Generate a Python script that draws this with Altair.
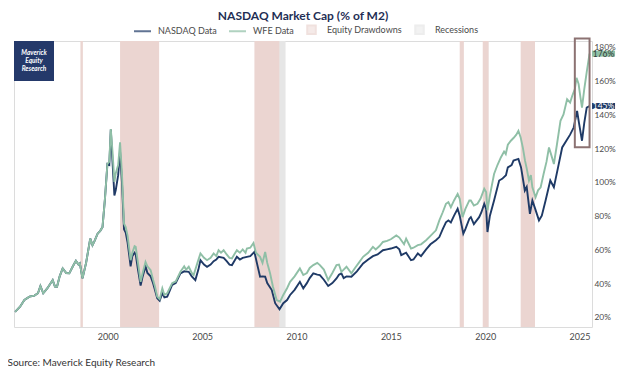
import altair as alt
import pandas as pd

# ---------------- data ----------------
wfe_years = [1995.09, 1995.35, 1995.58, 1995.85, 1996.11, 1996.3, 1996.43, 1996.58, 1996.8, 1997.08,
             1997.2, 1997.31, 1997.45, 1997.61, 1997.8, 1997.96, 1998.15, 1998.31, 1998.45, 1998.52,
             1998.66, 1998.85, 1999.07, 1999.19, 1999.3, 1999.46, 1999.6, 1999.72, 1999.85, 1999.98,
             2000.08, 2000.16, 2000.25, 2000.35, 2000.42, 2000.55, 2000.65, 2000.75, 2000.86, 2000.95,
             2001.05, 2001.21, 2001.3, 2001.42, 2001.48, 2001.6, 2001.74, 2001.85, 2002.0, 2002.1,
             2002.27, 2002.4, 2002.5, 2002.62, 2002.75, 2002.89, 2003.0, 2003.15, 2003.41, 2003.6,
             2003.85, 2004.05, 2004.15, 2004.29, 2004.45, 2004.55, 2004.75, 2004.91, 2005.1, 2005.26,
             2005.45, 2005.61, 2005.75, 2005.87, 2006.0, 2006.14, 2006.3, 2006.45, 2006.58, 2006.7,
             2006.84, 2007.0, 2007.15, 2007.3, 2007.37, 2007.55, 2007.72, 2007.85, 2008.07, 2008.2,
             2008.34, 2008.45, 2008.6, 2008.75, 2008.95, 2009.13, 2009.3, 2009.5, 2009.66, 2009.9,
             2010.18, 2010.36, 2010.55, 2010.7, 2010.89, 2011.1, 2011.24, 2011.45, 2011.68, 2011.9,
             2012.12, 2012.25, 2012.38, 2012.5, 2012.65, 2012.91, 2013.1, 2013.3, 2013.53, 2013.8,
             2014.05, 2014.2, 2014.4, 2014.58, 2014.8, 2015.0, 2015.29, 2015.45, 2015.55, 2015.7,
             2015.81, 2016.07, 2016.2, 2016.43, 2016.6, 2016.87, 2017.1, 2017.39, 2017.57, 2017.75,
             2017.92, 2018.05, 2018.18, 2018.35, 2018.54, 2018.65, 2018.8, 2018.95, 2019.16, 2019.24,
             2019.4, 2019.59, 2019.75, 2019.95, 2020.05, 2020.12, 2020.25, 2020.47, 2020.65, 2020.83,
             2021.0, 2021.09, 2021.2, 2021.36, 2021.5, 2021.65, 2021.76, 2021.88, 2022.0, 2022.11,
             2022.2, 2022.32, 2022.42, 2022.5, 2022.67, 2022.8, 2022.94, 2023.1, 2023.25, 2023.38,
             2023.5, 2023.64, 2023.8, 2023.99, 2024.15, 2024.34, 2024.5, 2024.61, 2024.75, 2024.84,
             2024.95, 2025.05, 2025.13, 2025.25, 2025.38, 2025.53]
wfe_values = [23, 26, 30, 32, 32.6, 34, 38.3, 34, 37, 41.8,
              38, 37.9, 44, 48.7, 46, 45.8, 50, 53.2, 51, 51.7,
              42.8, 52, 66.4, 62.5, 65, 69.3, 71, 73.2, 90, 110.6,
              112, 131.3, 118, 100, 105, 110, 123.4, 105, 75.2, 73.2,
              68, 53.6, 58, 61.9, 61.5, 52, 40.8, 46, 52.6, 50,
              47.7, 42, 38, 32, 30.5, 36.9, 33, 34, 40, 41,
              46.7, 50, 48, 49.7, 46, 44.8, 52, 57.6, 55, 53.6,
              55, 57.6, 56, 59.5, 58, 59.5, 57, 55, 54.6, 57,
              59.5, 58, 60, 58, 60.5, 61, 63.8, 58, 55.6, 52,
              58.5, 52, 45.8, 38, 30, 29, 33, 37, 40.8, 44,
              48.7, 44.8, 46, 49, 50.7, 52, 50.7, 48, 41.8, 46,
              50.7, 51, 46.7, 48, 49.7, 45.8, 49, 52, 55.6, 58,
              61.5, 60, 62, 64.4, 65, 66, 68.3, 67, 65.4, 63,
              66.4, 60.5, 61, 62.5, 63, 65.4, 68, 71.3, 77.2, 82,
              87, 88, 85, 89, 92.9, 90, 79.1, 84, 89, 89,
              86, 87, 90, 95.9, 94, 83.1, 92, 104.7, 110, 114.5,
              118, 116.5, 122, 124.4, 126, 128, 130.3, 126.3, 120, 112.6,
              108, 100.8, 104, 96.8, 90.9, 95, 96.8, 105, 112, 120.4,
              116, 110.6, 122, 136.2, 140, 149, 147, 150.9, 155, 161.7,
              158, 150, 144, 155, 165, 176]

nasdaq_years = [1995.09, 1995.35, 1995.58, 1995.85, 1996.11, 1996.3, 1996.43, 1996.58, 1996.8, 1997.08,
                1997.2, 1997.31, 1997.45, 1997.61, 1997.8, 1997.96, 1998.15, 1998.31, 1998.45, 1998.52,
                1998.66, 1998.85, 1999.07, 1999.19, 1999.3, 1999.46, 1999.6, 1999.72, 1999.85, 1999.98,
                2000.08, 2000.16, 2000.25, 2000.35, 2000.42, 2000.55, 2000.65, 2000.75, 2000.86, 2000.95,
                2001.05, 2001.21, 2001.3, 2001.42, 2001.48, 2001.6, 2001.74, 2001.85, 2002.0, 2002.1,
                2002.27, 2002.4, 2002.5, 2002.62, 2002.75, 2002.89, 2003.0, 2003.15, 2003.41, 2003.6,
                2003.85, 2004.05, 2004.29, 2004.45, 2004.64, 2004.8, 2004.91, 2005.1, 2005.26, 2005.45,
                2005.61, 2005.75, 2005.87, 2006.14, 2006.3, 2006.45, 2006.58, 2006.7, 2006.84, 2007.0,
                2007.15, 2007.37, 2007.55, 2007.77, 2007.9, 2008.07, 2008.2, 2008.34, 2008.45, 2008.69,
                2008.87, 2009.1, 2009.3, 2009.5, 2009.66, 2009.9, 2010.18, 2010.36, 2010.55, 2010.7,
                2010.89, 2011.1, 2011.24, 2011.45, 2011.68, 2011.9, 2012.12, 2012.25, 2012.38, 2012.5,
                2012.65, 2012.91, 2013.2, 2013.53, 2013.8, 2014.05, 2014.3, 2014.58, 2014.8, 2015.0,
                2015.29, 2015.45, 2015.55, 2015.81, 2016.07, 2016.2, 2016.43, 2016.6, 2016.87, 2017.1,
                2017.39, 2017.57, 2017.75, 2017.92, 2018.05, 2018.18, 2018.35, 2018.54, 2018.65, 2018.84,
                2018.95, 2019.16, 2019.24, 2019.4, 2019.68, 2019.8, 2019.95, 2020.05, 2020.12, 2020.25,
                2020.47, 2020.74, 2020.9, 2021.1, 2021.2, 2021.4, 2021.5, 2021.76, 2021.9, 2022.1,
                2022.2, 2022.37, 2022.5, 2022.65, 2022.85, 2023.0, 2023.2, 2023.45, 2023.64, 2023.85,
                2024.08, 2024.3, 2024.5, 2024.69, 2024.87, 2024.97, 2025.13, 2025.25, 2025.38, 2025.53]
nasdaq_values = [23, 26, 30, 32, 32.6, 34, 38.3, 34, 37, 41.8,
                 38, 37.9, 44, 48.7, 46, 45.8, 50, 53.2, 51, 51.7,
                 42.8, 52, 66.4, 62.5, 65, 69.3, 71, 73.2, 90, 110.6,
                 110, 131, 112, 92, 95, 104, 118, 100, 72, 70,
                 64, 50, 56, 58, 57, 48, 38.5, 44, 50, 46,
                 44, 40, 36, 31, 29.5, 34, 31.5, 32, 38.9, 40,
                 45.8, 47, 46.7, 44, 41.8, 48, 53.6, 51, 49.7, 51,
                 53, 54, 55.6, 55, 53, 51, 50.7, 53, 55.6, 54,
                 55, 55.6, 56, 58.5, 52, 43.8, 44, 43.8, 40, 35.9,
                 28.1, 24.5, 28.1, 30, 33, 36, 40.8, 36.9, 40, 43,
                 45.8, 45, 44.8, 42, 38.3, 40, 42.8, 45, 45.8, 43,
                 44, 43.8, 47, 51.7, 54, 56, 57, 59.5, 60, 60.5,
                 61.5, 60, 56.6, 58, 53.6, 54, 57.6, 56, 60, 63,
                 65.4, 67.3, 72, 76, 77.2, 76, 80, 84.1, 80, 69.3,
                 72, 78.2, 79.1, 75, 79.1, 82, 87, 84, 70.3, 80,
                 89, 100.8, 101.8, 104, 108.6, 110, 112.6, 113.6, 108.6, 94.9,
                 97, 81.1, 89, 84, 77.2, 80, 89, 100.8, 96.8, 108,
                 120.4, 124.4, 128, 132.2, 142.1, 135, 124.4, 135, 144, 145]

drawdown_start = [1998.55, 2000.65, 2007.77, 2018.65, 2019.87, 2021.88]
drawdown_end = [1998.68, 2002.72, 2009.09, 2018.87, 2020.18, 2022.64]
recession_start = [2001.2, 2007.95, 2020.1]
recession_end = [2001.85, 2009.42, 2020.17]

highlight_x = [2024.75, 2025.53]
highlight_y = [120.6, 185.0]

series_labels = ["NASDAQ Data", "WFE Data", "Equity Drawdowns", "Recessions"]
x_ticks = [2000, 2005, 2010, 2015, 2020, 2025]
y_ticks = [20, 40, 60, 80, 100, 120, 140, 160, 180]

# ---------------- styling ----------------
NAVY = "#1f3a66"
GREEN = "#8fbfa6"
PINK = "#ebd5d1"
GRAY = "#e6e6e6"
FONT = "Lato"
TXT = "#4a4a4a"

wfe_df = pd.DataFrame({"year": wfe_years, "value": wfe_values})
nas_df = pd.DataFrame({"year": nasdaq_years, "value": nasdaq_values})
dd_df = pd.DataFrame({"start": drawdown_start, "end": drawdown_end})
rec_df = pd.DataFrame({"start": recession_start, "end": recession_end})
hl_df = pd.DataFrame({"x1": [highlight_x[0]], "x2": [highlight_x[1]],
                      "y1": [highlight_y[0]], "y2": [highlight_y[1]]})
end_wfe = pd.DataFrame({"year": [wfe_years[-1]], "value": [wfe_values[-1]],
                        "label": [f"{round(wfe_values[-1])}%"]})
end_nas = pd.DataFrame({"year": [nasdaq_years[-1]], "value": [nasdaq_values[-1]],
                        "label": [f"{round(nasdaq_values[-1])}%"]})
legend_df = pd.DataFrame({"series": series_labels})
one = pd.DataFrame({"a": [0]})

x_scale = alt.Scale(domain=[1995.03, 2025.66], nice=False, zero=False)
y_scale = alt.Scale(domain=[14, 183.5], nice=False, zero=False)

x_axis = alt.Axis(values=x_ticks, format="d", grid=False, ticks=False, domain=False,
                  labelFont=FONT, labelFontSize=9, labelColor=TXT, labelPadding=5,
                  title="Source: Maverick Equity Research", titleFont=FONT, titleFontSize=10,
                  titleFontWeight="normal", titleColor="#333333", titleAnchor="start",
                  titleAlign="left", titleBaseline="alphabetic", titleX=-7, titleY=38)
y_axis = alt.Axis(values=y_ticks, orient="right", grid=False, ticks=False, domain=False,
                  labelExpr="datum.value + '%'", labelFont=FONT, labelFontSize=8.4,
                  labelColor=TXT, labelPadding=2, title=None)


def xq(field):
    return alt.X(f"{field}:Q", scale=x_scale, axis=x_axis)


def yq(field):
    return alt.Y(f"{field}:Q", scale=y_scale, axis=y_axis)


rec_layer = alt.Chart(rec_df).mark_rect(color=GRAY).encode(x=xq("start"), x2="end:Q")
dd_layer = alt.Chart(dd_df).mark_rect(color=PINK).encode(x=xq("start"), x2="end:Q")

nas_line = alt.Chart(nas_df).mark_line(color=NAVY, strokeWidth=1.9).encode(x=xq("year"), y=yq("value"))
wfe_line = alt.Chart(wfe_df).mark_line(color=GREEN, strokeWidth=1.9).encode(x=xq("year"), y=yq("value"))

hl_layer = alt.Chart(hl_df).mark_rect(fillOpacity=0, stroke="#8c7272", strokeWidth=2).encode(
    x=xq("x1"), x2="x2:Q", y=yq("y1"), y2="y2:Q")

BOX = "M-1,-0.26H1V0.26H-1Z"
wfe_box = alt.Chart(end_wfe).mark_point(shape=BOX, filled=True, size=529, opacity=1,
                                        color=GREEN, xOffset=14).encode(x=xq("year"), y=yq("value"))
nas_box = alt.Chart(end_nas).mark_point(shape=BOX, filled=True, size=529, opacity=1,
                                        color=NAVY, xOffset=14).encode(x=xq("year"), y=yq("value"))
wfe_txt = alt.Chart(end_wfe).mark_text(font=FONT, fontSize=8.5, color="#2f3b35", xOffset=14,
                                       align="center", baseline="middle").encode(
    x=xq("year"), y=yq("value"), text="label:N")
nas_txt = alt.Chart(end_nas).mark_text(font=FONT, fontSize=8.5, color="white", xOffset=14,
                                       align="center", baseline="middle").encode(
    x=xq("year"), y=yq("value"), text="label:N")

logo_rect = alt.Chart(one).mark_rect(color="#24396a").encode(
    x=alt.value(0), x2=alt.value(40), y=alt.value(0), y2=alt.value(40))
logo_txt = alt.Chart(one).mark_text(font=FONT, fontSize=6.5, fontStyle="italic", fontWeight="bold",
                                    color="white", align="center", baseline="middle",
                                    lineHeight=8).encode(
    x=alt.value(20), y=alt.value(12), text=alt.value(["Maverick", "Equity", "Research"]))

LINE_SYM = "M-1,0H1"
SQ_SYM = "M-0.5,-0.5H0.5V0.5H-0.5Z"
legend_kw = dict(title=None, orient="none", direction="horizontal", legendX=119, legendY=-21,
                 labelFont=FONT, labelFontSize=9, labelColor=TXT, symbolStrokeWidth=2,
                 symbolSize=289, columnPadding=8, labelOffset=6)
leg_colors = alt.Scale(domain=series_labels, range=[NAVY, GREEN, PINK, GRAY])
legend_layer = alt.Chart(legend_df).transform_filter("false").mark_point(filled=True).encode(
    fill=alt.Fill("series:N", scale=leg_colors, legend=alt.Legend(**legend_kw)),
    stroke=alt.Stroke("series:N", scale=leg_colors, legend=alt.Legend(**legend_kw)),
    shape=alt.Shape("series:N", scale=alt.Scale(domain=series_labels,
                                                range=[LINE_SYM, LINE_SYM, SQ_SYM, SQ_SYM]),
                    legend=alt.Legend(**legend_kw)),
)

chart = alt.layer(
    rec_layer, dd_layer, nas_line, wfe_line, hl_layer,
    wfe_box, nas_box, wfe_txt, nas_txt, logo_rect, logo_txt, legend_layer
).properties(
    width=578, height=286,
    title=alt.TitleParams("NASDAQ Market Cap (% of M2)", anchor="middle", font=FONT, fontSize=12,
                          fontWeight="bold", color="#1f2f55", offset=5, dy=8),
    autosize=alt.AutoSizeParams(type="none"),
    padding={"left": 6, "top": 33, "right": 24, "bottom": 42},
    background="white",
).configure_view(stroke="#dcdcdc", strokeWidth=1)

chart.save("out.html", embed_options={"renderer": "svg", "actions": False})
